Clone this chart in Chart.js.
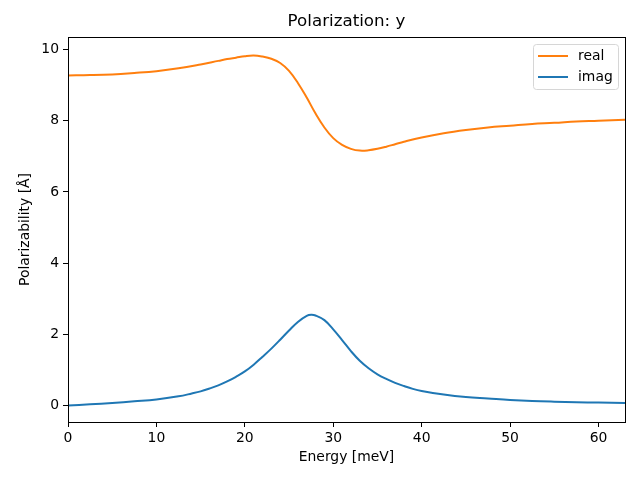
<!DOCTYPE html>
<html><head><meta charset="utf-8">
<script src="https://cdn.jsdelivr.net/npm/chart.js@4"></script>
<style>html,body{margin:0;padding:0;background:#fff}</style>
</head><body>
<canvas id="c" width="640" height="480"></canvas>
<script>
const chartTitle = "Polarization: y";
const xLabel = "Energy [meV]";
const yLabel = "Polarizability [Å]";
const seriesNames = ["real", "imag"];

const energyReal = [0, 2.5, 5, 7.5, 10, 12.5, 15, 17, 18, 19, 20, 21, 22, 23, 24, 25, 26, 27, 28, 29, 30, 31, 32, 33, 34, 35, 36, 37, 38, 40, 42.5, 45, 47.5, 50, 52.5, 55, 57.5, 60, 63];
const realValues = [9.27, 9.28, 9.30, 9.34, 9.39, 9.47, 9.58, 9.68, 9.73, 9.77, 9.81, 9.83, 9.80, 9.74, 9.62, 9.40, 9.06, 8.65, 8.20, 7.81, 7.51, 7.32, 7.21, 7.16, 7.17, 7.21, 7.27, 7.34, 7.41, 7.53, 7.65, 7.74, 7.81, 7.86, 7.91, 7.94, 7.98, 8.00, 8.03];

const energyImag = [0, 2.5, 5, 7.5, 10, 12.5, 14, 15, 16, 17, 18, 19, 20, 21, 22, 23, 24, 25, 26, 27, 27.5, 28, 29, 30, 31, 32, 33, 34, 35, 36, 37, 38, 39, 40, 42.5, 45, 47.5, 50, 52.5, 55, 57.5, 60, 63];
const imagValues = [0.00, 0.035, 0.075, 0.12, 0.17, 0.26, 0.34, 0.40, 0.48, 0.57, 0.68, 0.81, 0.96, 1.15, 1.37, 1.60, 1.85, 2.11, 2.35, 2.52, 2.55, 2.53, 2.40, 2.14, 1.84, 1.53, 1.26, 1.05, 0.88, 0.75, 0.64, 0.55, 0.47, 0.41, 0.31, 0.24, 0.20, 0.16, 0.13, 0.11, 0.095, 0.085, 0.075];

const xTicks = [0, 10, 20, 30, 40, 50, 60];
const yTicks = [0, 2, 4, 6, 8, 10];

const FONT = "'DejaVu Sans', sans-serif";
const colReal = "#ff7f0e";
const colImag = "#1f77b4";

const decor = {
  id: 'decor',
  afterDraw(chart) {
    const ctx = chart.ctx;
    const a = chart.chartArea;
    ctx.save();
    ctx.strokeStyle = '#000';
    ctx.lineWidth = 1;
    ctx.strokeRect(Math.round(a.left) + 0.5, Math.round(a.top) + 0.5, Math.round(a.right - a.left), Math.round(a.bottom - a.top));
    const cx = (a.left + a.right) / 2;
    ctx.fillStyle = '#000';
    ctx.textAlign = 'center';
    ctx.textBaseline = 'middle';
    ctx.font = "16.7px " + FONT;
    ctx.fillText(chartTitle, cx, 22);
    ctx.font = "13.9px " + FONT;
    ctx.fillText(xLabel, cx, 457);
    ctx.save();
    ctx.translate(25, (a.top + a.bottom) / 2);
    ctx.rotate(-Math.PI / 2);
    ctx.fillText(yLabel, 0, 0);
    ctx.restore();
    const bx = 533.5, by = 44.5, bw = 85, bh = 45, r = 3;
    ctx.beginPath();
    ctx.moveTo(bx + r, by);
    ctx.lineTo(bx + bw - r, by);
    ctx.quadraticCurveTo(bx + bw, by, bx + bw, by + r);
    ctx.lineTo(bx + bw, by + bh - r);
    ctx.quadraticCurveTo(bx + bw, by + bh, bx + bw - r, by + bh);
    ctx.lineTo(bx + r, by + bh);
    ctx.quadraticCurveTo(bx, by + bh, bx, by + bh - r);
    ctx.lineTo(bx, by + r);
    ctx.quadraticCurveTo(bx, by, bx + r, by);
    ctx.closePath();
    ctx.fillStyle = 'rgba(255,255,255,0.8)';
    ctx.fill();
    ctx.strokeStyle = '#d6d6d6';
    ctx.stroke();
    const ds = chart.data.datasets;
    const rows = [56, 77];
    ds.forEach((d, i) => {
      ctx.strokeStyle = d.borderColor;
      ctx.lineWidth = 2;
      ctx.beginPath();
      ctx.moveTo(538, rows[i]);
      ctx.lineTo(568, rows[i]);
      ctx.stroke();
      ctx.fillStyle = '#000';
      ctx.textAlign = 'left';
      ctx.textBaseline = 'middle';
      ctx.font = "13.9px " + FONT;
      ctx.fillText(d.label, 578, rows[i]);
    });
    ctx.restore();
  }
};

const toPts = (xs, ys) => xs.map((x, i) => ({x: x, y: ys[i]}));

new Chart(document.getElementById('c'), {
  type: 'line',
  data: {
    datasets: [
      {label: seriesNames[0], data: toPts(energyReal, realValues), borderColor: colReal, backgroundColor: colReal, borderWidth: 2, pointRadius: 0, tension: 0.4, fill: false},
      {label: seriesNames[1], data: toPts(energyImag, imagValues), borderColor: colImag, backgroundColor: colImag, borderWidth: 2, pointRadius: 0, tension: 0.4, fill: false}
    ]
  },
  options: {
    responsive: false,
    animation: false,
    events: [],
    layout: {padding: {top: 37, right: 15, left: 0, bottom: 0}},
    plugins: {legend: {display: false}, title: {display: false}, tooltip: {enabled: false}},
    scales: {
      x: {
        type: 'linear', min: 0, max: 63,
        afterBuildTicks: s => { s.ticks = xTicks.map(v => ({value: v})); },
        afterFit: s => { s.height = 58; },
        grid: {display: true, drawOnChartArea: false, drawTicks: true, tickLength: 5, color: '#000'},
        border: {display: true, color: '#000', width: 1},
        ticks: {color: '#000', font: {family: FONT, size: 13.9}, padding: 3, maxRotation: 0, autoSkip: false}
      },
      y: {
        type: 'linear', min: -0.46, max: 10.35,
        afterBuildTicks: s => { s.ticks = yTicks.map(v => ({value: v})); },
        afterFit: s => { s.width = 68; },
        grid: {display: true, drawOnChartArea: false, drawTicks: true, tickLength: 5, color: '#000'},
        border: {display: true, color: '#000', width: 1},
        ticks: {color: '#000', font: {family: FONT, size: 13.9}, padding: 4, autoSkip: false}
      }
    }
  },
  plugins: [decor]
});
</script>
</body></html>
